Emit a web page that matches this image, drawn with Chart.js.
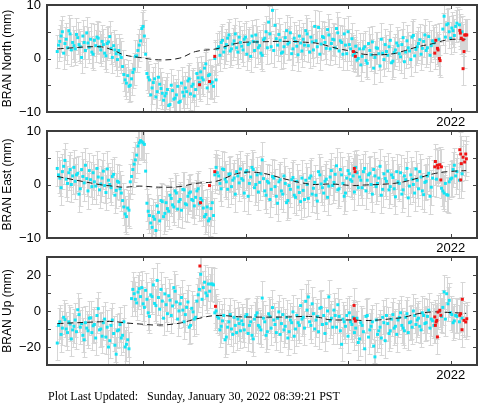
<!DOCTYPE html>
<html>
<head>
<meta charset="utf-8">
<script src="https://cdn.jsdelivr.net/npm/chart.js@4.4.1/dist/chart.umd.min.js"></script>
<style>
  html, body { margin: 0; padding: 0; background: #fff; overflow: hidden; }
  #wrap { position: relative; width: 481px; height: 404px; }
  canvas { position: absolute; left: 0; }
  #footer { position: absolute; left: 48px; top: 389px; font: 12px "Liberation Serif", "Times New Roman", serif; white-space: pre; color: #000; }
</style>
</head>
<body>
<div id="wrap">
  <canvas id="north" width="481" height="151" style="top:-15px"></canvas>
  <canvas id="east" width="481" height="151" style="top:111px"></canvas>
  <canvas id="up" width="481" height="152" style="top:237px"></canvas>
  <div id="footer">Plot Last Updated:   Sunday, January 30, 2022 08:39:21 PST</div>
</div>
<script>
// daily solutions resampled: first epoch and spacing (decimal years);
// the "B" lists sit half a step after the "A" lists
const t0 = 2018.16;
const step = 0.025;

const northA = [
  1.3, 3.2, 5.0, 2.8, 2.0, 4.6, 3.0,
  1.8, 3.9, 2.2, 4.2, 1.5, 2.9, 3.6, 0.8, 2.4, 3.8,
  1.6, 2.6, 0.5, 3.1, 1.9, 2.4, 0.9,
  1.5, 0.2, -3.0, -4.6, -5.2, -3.8, -2.0,
  0.5, 2.5, 5.6, 4.2, -2.8,
  -4.0, -5.5, -3.8, -6.2, -4.8, -6.5,
  -7.0, -5.8, -8.6, -6.0, -7.4, -5.2, -8.0, -6.3,
  -5.5, -4.2, -6.6, -4.8, -5.8, -3.6,
  -2.5, -4.0, -1.0, -3.2, -4.6, -5.2, -4.0,
  2.2, 3.0, 1.2, 2.6, 4.4, 1.8, 3.3, 2.0, 4.0,
  2.3, 3.6, 0.8, 2.9, 4.2, 1.5, 3.1, 2.4, 0.6, 3.8, 2.0, 4.6,
  9.0, 6.2, 2.5, 3.4, 1.2, 3.9, 2.7, 4.8, 1.8, 3.2, 0.7, 2.9,
  3.6, 5.2, 2.4, 4.0, 1.6, 3.3, 5.8, 2.7, 3.9, 1.9, 4.4, 2.8,
  3.5, 5.6, 1.4, 3.0, 4.6, 0.9, 2.6, 3.7,
  1.0, -0.3, 1.8,
  0.4, 2.2, -0.9, 1.5, 3.1, 0.2, 1.9, -1.4, 1.0, 2.6, 0.6, 3.4, -0.5, 1.6,
  2.4, 0.3, 3.9, 1.2, 2.0, -0.2, 4.3, 1.7, 2.8, 0.8,
  3.2, 1.5, 4.1, 2.4, 2.9, null, 3.6, null, 7.9,
  6.3, 5.0, 5.7, 4.3, 6.6, 6.3, 5.0
];
const northB = [
  2.5, 4.2, 1.0, 3.6, 5.2, 1.6, 2.4,
  4.5, 2.6, 0.2, 3.0, 4.8, 2.1, 1.2, 3.4, 4.0, 2.2,
  3.2, 1.0, 2.8, 4.1, 0.2, 1.6, -0.2,
  0.8, -1.5, -4.0, -3.2, -5.0, -2.6, 0.4,
  1.5, 3.3, 6.0, 0.8, -3.5,
  -6.8, -4.5, -7.2, -3.5, -5.6, -7.8,
  -6.5, -8.8, -5.0, -7.6, -6.8, -8.2, -4.6, -7.0,
  -6.2, -3.8, -5.2, -7.0, -2.8, -4.5,
  -3.6, -1.8, -5.5, -3.0, -4.4, 0.0, 1.8,
  0.6, 3.4, 2.0, 3.8, 1.4, 2.7, 4.6, 1.2, 3.0,
  1.6, 4.0, 2.6, 0.4, 3.2, 4.4, 2.0, 1.0, 3.5, 5.0, 6.8, 2.2,
  1.5, 3.7, 4.5, 1.0, 2.2, 5.2, 3.0, 0.9, 3.8, 2.3, 4.2, 1.4,
  2.5, 4.6, 1.2, 3.1, 6.0, 2.2, 0.8, 4.1, 3.0, 5.4, 1.8, 3.6,
  2.0, 4.8, 3.3, 0.8, 2.5, 5.0, 1.8, 0.6,
  2.3, 0.0, -1.2,
  1.8, -0.4, 2.8, 0.7, -1.8, 2.0, 0.9, 3.6, -0.2, 1.3, 2.2, -0.8, 1.1, 2.9,
  0.9, 2.6, -0.6, 3.3, 1.4, 4.0, 0.5, 2.2, 3.5, 1.9,
  4.4, 2.0, 0.6, 3.3, null, null, null, 5.5, 4.0,
  6.5, 3.8, 5.2, 6.0, null, null, null
];

const eastA = [
  3.0, 1.2, 2.4, 4.5, 0.2, 2.8, 1.6,
  0.6, 2.1, -0.8, 1.5, 3.6, -1.2, 0.9, 2.2, -0.3, 1.4,
  0.1, 2.5, -1.5, 0.8, -0.6, 1.9, -1.1,
  0.4, -1.6, -4.2, -6.0, -4.8,
  1.5, 3.8, 5.5, 7.8, 8.0, 7.5, -3.5,
  -5.8, -8.0, -6.5, -4.0, -6.8, -3.2, -5.4, -4.5,
  -2.0, -3.8, -1.2, -4.6, -2.8, -0.9, -3.6, -2.2,
  -1.4, -3.0, -2.4, -0.8, -2.6, -4.4, -5.6,
  -6.8, -4.5, -5.8, 3.2,
  1.6, -0.8, 2.8, 0.5, 1.9, -0.4, 1.2, 2.4, 0.3,
  1.1, -1.6, 2.6, 0.2, 3.2, -0.6, 1.8, 0.4, 4.6,
  -1.2, 0.6, -2.8, 1.5, -0.4, -3.5, 0.9,
  -1.8, 0.2, -3.0, -0.9, 1.3, -2.4, -0.5, -3.2,
  -1.1, 0.8, -2.6, 1.6, -0.7, -2.0, 2.4, 0.1, -1.6, 1.0, -0.3, 2.6,
  0.4, 3.5, -0.8, 1.8, -2.2, 1.2,
  2.0, 0.6, -1.4, 2.2,
  1.4, -0.6, 3.0, 0.8, 2.1, -1.8, 1.6, 0.2, 3.4, -0.9, 1.1, 2.5,
  -0.4, 1.3, -2.3, 0.5, 2.2, -1.0, 0.9, -2.5, 1.8, 0.0, 2.9,
  -0.8, 1.4, -1.9, 0.6, 2.1, -0.5,
  null, 1.0, null,
  -0.7, -1.6, -1.9, 0.5,
  1.2, 3.6, 2.4, 0.8, 2.0
];
const eastB = [
  1.8, -0.6, 3.4, 1.0, 2.2, 0.0, 3.2,
  1.8, -1.8, 2.8, 0.3, 1.1, 2.6, -0.4, 0.5, 3.0, -1.0,
  1.2, -0.2, 2.9, 0.0, 1.5, -2.0, 0.6,
  -0.8, -3.0, -5.5, -4.4, 0.5, 2.8, 4.6,
  7.2, 8.2, 7.8, 2.5, -5.0,
  -7.2, -6.0, -8.6, -5.2, -3.0, -6.0,
  -3.4, -5.0, -2.6, -4.2, -1.6, -3.2, -4.8, -1.0,
  -3.8, -1.6, -2.8, -4.0, -1.2, -3.6,
  -3.0, -6.0, -4.2, -6.4, -3.4, 1.8, 2.2,
  0.2, 2.9, 1.0, -0.9, 2.0, 0.8, -1.8, 1.6, 2.9,
  0.8, 2.3, -2.2, 1.4, 2.8, 0.0, -1.4, 2.0, 1.1, -2.0, 0.3, -0.9,
  1.2, -2.2, 0.5, -1.2, 1.6, -3.4, -0.2, 0.9, -2.0, 0.6, -1.5, 1.2,
  -2.8, 0.0, 1.2, -1.8, 0.4, -3.1, 1.8, -0.6, 0.6, -2.4, 1.4, -0.2,
  1.9, -1.0, 2.8, 0.2, -1.6, 2.6,
  0.9, 1.6, 3.2, -0.6,
  0.8, 2.4, -1.2, 1.8, 0.0, 2.8, -0.4, 1.2, -2.0, 2.0, 0.6, -1.0,
  1.8, -0.8, 2.4, 0.2, -1.8, 1.6, 3.0, -0.3, 1.0, -1.6, 0.8,
  2.4, -1.2, 0.4, 1.6, -2.2, 1.2,
  null, null, null,
  -1.2, 0.2, -2.0, 1.0,
  2.8, 1.6, null, null, null
];

const upA = [
  -17.8, -6.0, -9.5, -4.8, -12.0, -7.2, -10.5,
  -5.0, 0.7, -9.0, -13.5, -6.5, -11.0, -3.8, -8.2, -15.0, 1.3,
  -10.0, -6.5, -14.5, -20.0, -8.0, -12.5, -24.0,
  -10.5, -15.0, -6.0, -18.5, -21.0,
  6.9, 9.6, 4.5, 12.4, 13.0,
  2.0, 6.5, -3.0, 8.0, 4.2, 17.0, 1.0, 5.5,
  9.5, -1.5, 6.0, 2.8, 11.0, -4.5, 4.0, 0.5,
  -2.0, 5.0, -8.0, -0.5, -3.5,
  9.0, 20.4, 13.0, 10.0, 15.0, 15.0, 14.5, 0.0,
  -4.0, -8.5, -2.5, -14.5, -6.0, -10.0, -3.5, -12.0, -7.0,
  -5.5, -10.5, -2.0, -8.0, -13.5, -4.5, -1.0, -9.0, 7.2, -6.0, -11.5, -3.0,
  1.9, -7.5, -4.0, -13.0, -2.0, -8.5, -15.0, -5.0, -0.5, -10.0, -6.5, 3.0,
  -3.5, 5.4, 7.8, -8.0, -1.5, -5.0, -11.5, 2.0, -2.5, -7.0, 7.8, -4.0,
  0.5, -9.0, -3.0, -18.5, -6.0,
  -2.5, -1.0, -7.5,
  -12.0, -4.0, -15.5, -8.0, -21.0, -2.5, -10.5, -6.0, -25.5, -13.0,
  -9.0, -3.5, -16.5, -7.0, -11.0, -2.0, -8.5,
  -5.0, -1.0, -9.5, -3.5, -12.0, -6.0, 0.0, -7.5, -4.0, -10.5,
  -2.5, -6.5, 0.5, -4.5, -8.0,
  null, null,
  -3.0, 10.6, 9.6, 5.9,
  -2.0, -5.5, -3.0, -6.0, -4.0
];
const upB = [
  -8.0, -13.0, -3.5, -10.0, -6.0, -15.5, -8.5,
  -11.5, -2.0, -7.0, -16.0, -9.5, -4.0, -12.0, -7.5, -2.5, -10.5,
  -14.0, -4.5, -9.0, -16.5, -5.0, -19.0, -11.0,
  -7.5, -13.5, -20.0, -16.0, null,
  12.0, 6.5, 10.5, 8.0, 4.0,
  11.5, -1.0, 9.0, 14.5, 3.0, 7.5, 12.0, -4.0,
  3.5, 8.5, -2.5, 13.0, 5.0, 0.0, 7.5, -6.0,
  2.0, -9.0, 1.5, -4.5, 5.5,
  12.0, 6.5, 16.0, 8.5, 11.0, 15.0, -1.0, -3.0,
  -10.5, -5.5, -16.0, -9.0, -2.0, -13.0, -8.0, -4.5, -11.0,
  -7.5, -3.0, -12.5, -6.0, -15.5, -2.5, -8.0, -10.5, -4.0, -13.5, -1.5, -9.5,
  -5.0, -12.0, -0.5, -7.0, -10.5, -3.5, -11.5, -6.5, -14.0, -2.5, -8.0, -4.5,
  -9.5, 0.5, -6.0, 4.0, -10.0, -3.0, 1.5, -7.5, -12.5, 0.0, -5.5, -9.0,
  -2.5, 3.5, -11.0, -4.5, -8.5,
  -14.0, -6.0, -3.5,
  -9.5, -17.5, -6.5, -11.5, -3.0, -14.5, -8.5, -19.5, -5.0, -11.0,
  -15.0, -6.5, -2.5, -12.5, -4.5, -9.5, -13.0,
  -3.5, -8.0, -11.0, -1.5, -6.5, -9.0, -2.5, -5.0, -8.5, -1.0,
  -7.0, -3.0, -9.5, -5.5, null,
  null, null,
  2.0, -4.5, 4.0, -1.0,
  -6.5, -2.5, null, null, null
];

// flagged (red) solutions: [decimal year, mm]
const northRed = [[2019.549,-4.9],[2019.646,-4.3],[2019.697,0.4],[2021.050,1.3],[2021.069,0.4],
  [2021.844,1.0],[2021.854,3.4],[2021.870,1.9],[2021.876,1.6],[2021.889,0.0],[2021.896,-0.4],
  [2022.088,5.25],[2022.093,4.75],[2022.103,3.8],[2022.120,3.5],[2022.129,1.3],[2022.136,4.4],
  [2022.146,4.4],[2022.156,4.4],[2022.120,-1.9]];
const eastRed = [[2019.558,-3.4],[2019.646,-0.2],[2019.697,2.4],[2021.059,3.0],[2021.066,2.4],
  [2021.844,3.3],[2021.850,4.3],[2021.870,3.6],[2021.876,3.1],[2021.893,3.7],[2021.903,0.85],
  [2021.909,3.3],[2022.088,6.5],[2022.097,5.7],[2022.097,0.85],[2022.103,3.9],[2022.120,5.1],
  [2022.136,4.2],[2022.146,5.7],[2022.152,4.8]];
const upRed = [[2019.552,25],[2019.704,2.6],[2021.056,3.1],[2021.059,-4.3],[2021.069,-5.6],
  [2021.844,-3.3],[2021.850,-8.0],[2021.857,-6.1],[2021.864,-5.2],[2021.870,-14.4],[2021.876,-0.6],
  [2021.893,0.4],[2021.903,-2.4],[2022.088,-2.4],[2022.097,-1.5],[2022.110,-10.4],[2022.113,6.5],
  [2022.129,-5.2],[2022.146,-6.1],[2022.156,-4.3]];

// model curve (dashed)
const modelT = [2018.16, 2018.57, 2018.70, 2018.81, 2018.96, 2019.15, 2019.35, 2019.51, 2019.71,
  2019.93, 2020.13, 2020.42, 2020.61, 2020.71, 2020.81, 2020.91, 2021.05, 2021.15, 2021.29,
  2021.44, 2021.54, 2021.68, 2021.83, 2021.97, 2022.15];
const northModel = [1.8, 2.2, 1.6, 0.7, 0.2, -0.25, 0.05, 1.3, 1.8, 2.9, 3.1, 3.2, 3.0, 2.8, 2.3,
  1.8, 1.3, 0.8, 0.7, 0.9, 1.4, 2.2, 2.8, 3.5, 3.6];
const eastModel = [1.5, 0.0, -0.3, -0.5, -0.3, -0.5, -0.4, 0.2, 0.6, 2.1, 2.2, 0.85, 0.1, 0.0, 0.1,
  0.0, -0.2, -0.1, 0.0, 0.2, 0.5, 1.2, 2.0, 2.4, 2.6];
const upModel = [-7, -6, -5.8, -6.5, -7.2, -7.8, -6.8, -4.5, -2.5, -3.2, -3.4, -3.3, -3.0, -3.5, -4.8,
  -5.0, -5.0, -5.3, -5.0, -4.2, -3.5, -1.5, -0.5, -0.8, -1.3];

const yearTicks = [2018, 2019, 2020, 2021, 2022];
const xLabels = [2022];
const xMin = 2018.06, xMax = 2022.256;

const errorBars = {
  id: 'errorBars',
  beforeDatasetsDraw(chart) {
    const ctx = chart.ctx, ys = chart.scales.y, a = chart.chartArea;
    ctx.save();
    ctx.beginPath();
    ctx.rect(a.left, a.top, a.right - a.left, a.bottom - a.top);
    ctx.clip();
    ctx.strokeStyle = '#d6d6d6';
    ctx.lineWidth = 1;
    ctx.beginPath();
    chart.data.datasets.forEach((ds, i) => {
      if (!ds.sigma) return;
      chart.getDatasetMeta(i).data.forEach((pt, j) => {
        const v = ds.data[j].y;
        const x = Math.round(pt.x) + 0.5;
        const y1 = Math.round(ys.getPixelForValue(v + ds.sigma)) + 0.5;
        const y2 = Math.round(ys.getPixelForValue(v - ds.sigma)) + 0.5;
        ctx.moveTo(x, y1); ctx.lineTo(x, y2);
        ctx.moveTo(x - 2, y1); ctx.lineTo(x + 3, y1);
        ctx.moveTo(x - 2, y2); ctx.lineTo(x + 3, y2);
      });
    });
    ctx.stroke();
    ctx.restore();
  }
};

const frame = {
  id: 'frame',
  afterDatasetsDraw(chart) {
    const ctx = chart.ctx, a = chart.chartArea;
    const xs = chart.scales.x, ys = chart.scales.y;
    ctx.save();
    ctx.strokeStyle = '#444';
    ctx.lineWidth = 1;
    ctx.beginPath();
    ys.ticks.forEach(t => {
      const y = Math.round(ys.getPixelForValue(t.value)) + 0.5;
      ctx.moveTo(a.left, y); ctx.lineTo(a.left + 4, y);
      ctx.moveTo(a.right, y); ctx.lineTo(a.right - 4, y);
    });
    xs.ticks.forEach(t => {
      const x = Math.round(xs.getPixelForValue(t.value)) + 0.5;
      ctx.moveTo(x, a.bottom); ctx.lineTo(x, a.bottom - 4);
      ctx.moveTo(x, a.top); ctx.lineTo(x, a.top + 4);
    });
    ctx.stroke();
    ctx.lineWidth = 2;
    ctx.strokeStyle = '#3c3c3c';
    ctx.strokeRect(a.left, a.top, a.right - a.left, a.bottom - a.top);
    ctx.restore();
  }
};

function seriesPoints(vals, offset) {
  const out = [];
  vals.forEach((v, i) => { if (v !== null) out.push({ x: t0 + offset + i * step, y: v }); });
  return out;
}

function cyanSet(vals, offset, sigma) {
  return {
    data: seriesPoints(vals, offset), sigma: sigma, order: 3,
    pointStyle: 'rect', pointRadius: 2.1, pointBorderWidth: 0,
    backgroundColor: '#14e4f4', borderColor: '#14e4f4'
  };
}

function makePanel(id, title, valsA, valsB, red, model, sigma, yMin, yMax, yStep, yLabels) {
  new Chart(document.getElementById(id), {
    type: 'scatter',
    data: {
      datasets: [
        cyanSet(valsA, 0, sigma),
        cyanSet(valsB, step / 2, sigma),
        {
          type: 'line', order: 2,
          data: modelT.map((t, i) => ({ x: t, y: model[i] })),
          borderColor: '#1a1a1a', borderWidth: 1, borderDash: [6, 4],
          pointRadius: 0, tension: 0.4, fill: false
        },
        {
          data: red.map(p => ({ x: p[0], y: p[1] })), sigma: sigma, order: 1,
          pointStyle: 'rect', pointRadius: 2.1, pointBorderWidth: 0,
          backgroundColor: '#f01414', borderColor: '#f01414'
        }
      ]
    },
    options: {
      responsive: false,
      animation: false,
      devicePixelRatio: 1,
      layout: { padding: { top: 20, left: 0, right: 2, bottom: 0 } },
      plugins: { legend: { display: false }, tooltip: { enabled: false } },
      scales: {
        x: {
          type: 'linear', min: xMin, max: xMax,
          afterBuildTicks: s => { s.ticks = yearTicks.filter(v => v > xMin && v < xMax).map(v => ({ value: v })); },
          afterFit: s => { s.height = 24; },
          grid: { display: false, drawTicks: false },
          border: { display: false },
          ticks: {
            autoSkip: false, maxRotation: 0, padding: 3, color: '#000',
            font: { family: '"Liberation Sans", Arial, sans-serif', size: 13 },
            callback: v => (xLabels.includes(v) ? String(v) : '')
          }
        },
        y: {
          min: yMin, max: yMax,
          afterFit: s => { s.width = 47; },
          grid: { display: false, drawTicks: false },
          border: { display: false },
          ticks: {
            stepSize: yStep, padding: 6, color: '#000', autoSkip: false,
            font: { family: '"Liberation Sans", Arial, sans-serif', size: 13 },
            callback: v => (yLabels.some(l => Math.abs(l - v) < 1e-6) ? String(Math.round(v)).replace('-', '\u2212') : '')
          },
          title: {
            display: true, text: title, color: '#000',
            font: { family: '"Liberation Sans", Arial, sans-serif', size: 12 },
            padding: { top: 0, bottom: 0 }
          }
        }
      }
    },
    plugins: [errorBars, frame]
  });
}

makePanel('north', 'BRAN North (mm)', northA, northB, northRed, northModel, 3.0, -10, 10, 5, [-10, 0, 10]);
makePanel('east', 'BRAN East (mm)', eastA, eastB, eastRed, eastModel, 3.3, -10, 10, 5, [-10, 0, 10]);
makePanel('up', 'BRAN Up (mm)', upA, upB, upRed, upModel, 9.5, -30, 30, 10, [-20, 0, 20]);
</script>
</body>
</html>
